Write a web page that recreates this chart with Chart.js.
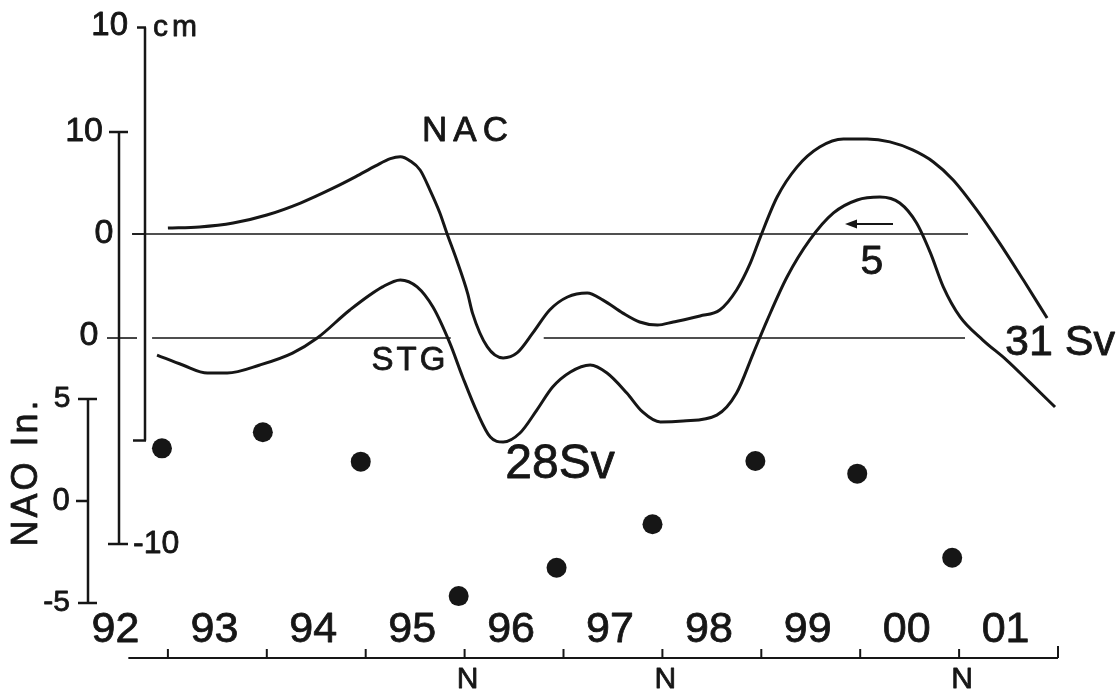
<!DOCTYPE html>
<html>
<head>
<meta charset="utf-8">
<script src="https://cdn.jsdelivr.net/npm/chart.js@4.4.1/dist/chart.umd.min.js"></script>
<style>
  html, body { margin: 0; padding: 0; background: #fff; }
  #wrap { width: 1119px; height: 692px; }
</style>
</head>
<body>
<div id="wrap"><canvas id="chart" width="1119" height="692"></canvas></div>
<script>
// NAC sea level curve (cm)
const nacYears = [1993.00, 1993.32, 1993.66, 1994.00, 1994.34, 1994.67, 1994.90, 1995.10, 1995.25, 1995.35,
  1995.45, 1995.55, 1995.65, 1995.75, 1995.82, 1995.92, 1996.03, 1996.08, 1996.23, 1996.39,
  1996.53, 1996.69, 1996.86, 1997.04, 1997.24, 1997.40, 1997.60, 1997.77, 1997.95, 1998.11,
  1998.38, 1998.58, 1998.75, 1998.89, 1998.99, 1999.16, 1999.36, 1999.59, 1999.83, 2000.07,
  2000.30, 2000.53, 2000.74, 2000.94, 2001.18, 2001.41, 2001.65, 2001.89];
const nacCm = [0.29, 0.34, 0.53, 0.92, 1.50, 2.22, 2.78, 3.30, 3.65, 3.74,
  3.54, 3.10, 2.13, 1.02, 0.05, -1.26, -2.86, -3.83, -5.47, -6.00,
  -5.76, -4.79, -3.68, -3.05, -2.86, -3.20, -3.83, -4.26, -4.41, -4.26,
  -3.97, -3.68, -2.71, -1.40, -0.15, 1.79, 3.24, 4.21, 4.60, 4.60,
  4.46, 4.07, 3.49, 2.62, 1.16, -0.44, -2.23, -4.07];

// STG curve (cm)
const stgYears = [1992.89, 1993.15, 1993.40, 1993.60, 1993.93, 1994.26, 1994.51, 1994.84, 1995.17, 1995.35,
  1995.52, 1995.68, 1995.85, 1995.98, 1996.13, 1996.26, 1996.39, 1996.56, 1996.73, 1996.89,
  1997.07, 1997.27, 1997.44, 1997.64, 1997.80, 1997.98, 1998.21, 1998.55, 1998.75, 1998.92,
  1999.06, 1999.26, 1999.49, 1999.73, 1999.97, 2000.20, 2000.40, 2000.57, 2000.71, 2000.84,
  2001.01, 2001.24, 2001.48, 2001.72, 2001.97];
const stgCm = [-0.83, -1.31, -1.70, -1.70, -1.31, -0.73, 0.00, 1.36, 2.48, 2.82,
  2.48, 1.50, -0.24, -1.89, -3.64, -4.81, -5.05, -4.61, -3.50, -2.38,
  -1.65, -1.31, -1.70, -2.67, -3.59, -4.08, -4.03, -3.74, -2.67, -0.73,
  0.87, 2.96, 4.76, 6.07, 6.70, 6.84, 6.55, 5.58, 4.13, 2.48,
  1.02, -0.10, -1.07, -2.18, -3.35];

// winter NAO index dots
const naoYears = [1992.94, 1993.96, 1994.95, 1995.94, 1996.93, 1997.90, 1998.94, 1999.97, 2000.93];
const naoIndex = [2.58, 3.37, 1.93, -4.66, -3.27, -1.14, 1.96, 1.34, -2.78];

// reference (zero) lines
const nacZeroYears = [1992.64, 2001.09];
const stgZeroYears = [1992.84, 1995.86, 1996.80, 2001.06];

const yearLabels = ["92", "93", "94", "95", "96", "97", "98", "99", "00", "01"];
const firstYear = 1992;
const ninoYears = [1996, 1998, 2001];
const nacTicks = [10, 0, -10];
const stgTicks = [10, 0, -10];
const naoTicks = [5, 0, -5];

const INK = "#161616";
const FONT = "'Liberation Sans', Arial, sans-serif";

function pts(xs, ys) {
  return xs.map((x, i) => ({ x: x, y: ys[i] }));
}

function seg(ctx, x1, y1, x2, y2) {
  ctx.beginPath();
  ctx.moveTo(x1, y1);
  ctx.lineTo(x2, y2);
  ctx.stroke();
}

// text with a hairline stroke so it looks as heavy as the printed lettering
function label(ctx, str, x, y, size, align, spacing) {
  ctx.save();
  ctx.font = size + "px " + FONT;
  ctx.textAlign = align || "center";
  ctx.textBaseline = "middle";
  ctx.letterSpacing = (spacing || 0) + "px";
  ctx.lineWidth = 0.8;
  ctx.lineJoin = "round";
  ctx.fillText(str, x, y);
  ctx.strokeText(str, x, y);
  ctx.restore();
}

const paperAxes = {
  id: "paperAxes",
  afterDatasetsDraw(chart) {
    const ctx = chart.ctx;
    const xs = chart.scales.x;
    const nac = chart.scales.yNAC;
    const stg = chart.scales.ySTG;
    const nao = chart.scales.yNAO;
    ctx.save();
    ctx.strokeStyle = INK;
    ctx.fillStyle = INK;
    ctx.lineWidth = 2.5;

    // NAC axis (cm)
    const xc = 145;
    seg(ctx, xc, nac.getPixelForValue(10), xc, nac.getPixelForValue(-10));
    seg(ctx, 137, nac.getPixelForValue(10), xc + 1, nac.getPixelForValue(10));
    seg(ctx, 133, nac.getPixelForValue(-10), xc + 1, nac.getPixelForValue(-10));
    ctx.lineWidth = 1.6;
    seg(ctx, 132, nac.getPixelForValue(0), xc, nac.getPixelForValue(0));
    ctx.lineWidth = 2.5;
    label(ctx, String(nacTicks[0]), 128, nac.getPixelForValue(10) - 2, 33, "right");
    label(ctx, "cm", 153, nac.getPixelForValue(10), 30, "left", 4);
    label(ctx, String(nacTicks[1]), 104, nac.getPixelForValue(0), 34, "center");

    // STG axis
    const xb = 119;
    seg(ctx, xb, stg.getPixelForValue(10), xb, stg.getPixelForValue(-10));
    seg(ctx, 109, stg.getPixelForValue(10), 128, stg.getPixelForValue(10));
    seg(ctx, 108, stg.getPixelForValue(-10), 128, stg.getPixelForValue(-10));
    ctx.lineWidth = 1.6;
    seg(ctx, 107, stg.getPixelForValue(0), 137, stg.getPixelForValue(0));
    ctx.lineWidth = 2.5;
    label(ctx, String(stgTicks[0]), 103, stg.getPixelForValue(10), 34, "right");
    label(ctx, String(stgTicks[1]), 89, stg.getPixelForValue(0) - 2, 34, "center");
    label(ctx, "-" + Math.abs(stgTicks[2]), 133, stg.getPixelForValue(-10), 32, "left");

    // NAO axis
    const xa = 88;
    seg(ctx, xa, nao.getPixelForValue(5), xa, nao.getPixelForValue(-5));
    seg(ctx, 78, nao.getPixelForValue(5), 97, nao.getPixelForValue(5));
    seg(ctx, 76, nao.getPixelForValue(0), xa, nao.getPixelForValue(0));
    seg(ctx, 78, nao.getPixelForValue(-5), 97, nao.getPixelForValue(-5));
    label(ctx, String(naoTicks[0]), 62, nao.getPixelForValue(5), 30, "center");
    label(ctx, String(naoTicks[1]), 61, nao.getPixelForValue(0), 31, "center");
    label(ctx, "-" + Math.abs(naoTicks[2]), 70, nao.getPixelForValue(-5), 30, "right");
    ctx.save();
    ctx.translate(27, 472);
    ctx.rotate(-Math.PI / 2);
    label(ctx, "NAO In.", 0, 0, 36, "center", 3);
    ctx.restore();

    // time axis
    const yAxis = 658;
    ctx.lineWidth = 2;
    seg(ctx, xs.getPixelForValue(firstYear + 0.6), yAxis, xs.getPixelForValue(firstYear + 10), yAxis);
    for (let i = 1; i <= yearLabels.length; i++) {
      const px = xs.getPixelForValue(firstYear + i);
      seg(ctx, px, yAxis, px, yAxis - (i === yearLabels.length ? 12 : 9));
    }
    yearLabels.forEach((t, i) => {
      label(ctx, t, xs.getPixelForValue(firstYear + i + 0.47), 630, 43, "center");
    });
    ninoYears.forEach(yr => {
      label(ctx, "N", xs.getPixelForValue(yr) + 3, 680, 30, "center");
    });

    // curve annotations
    label(ctx, "NAC", 468, 131, 35, "center", 6);
    label(ctx, "STG", 410, 361, 33, "center", 3);
    label(ctx, "28Sv", 560, 465, 48, "center");
    label(ctx, "31 Sv", 1060, 343, 43, "center");
    label(ctx, "5", 872, 263, 41, "center");

    // little arrow on the upper zero line
    ctx.lineWidth = 1.8;
    seg(ctx, 893, 224, 850, 224);
    ctx.beginPath();
    ctx.moveTo(845, 224);
    ctx.lineTo(857, 219.5);
    ctx.lineTo(857, 228.5);
    ctx.closePath();
    ctx.fill();

    ctx.restore();
  }
};

const nacZero = pts(nacZeroYears, [0, 0]);
const stgZero = [
  { x: stgZeroYears[0], y: 0 }, { x: stgZeroYears[1], y: 0 },
  { x: (stgZeroYears[1] + stgZeroYears[2]) / 2, y: null },
  { x: stgZeroYears[2], y: 0 }, { x: stgZeroYears[3], y: 0 }
];

const curveStyle = {
  borderColor: INK,
  borderWidth: 3,
  pointRadius: 0,
  fill: false,
  cubicInterpolationMode: "monotone"
};

new Chart(document.getElementById("chart"), {
  type: "line",
  data: {
    datasets: [
      Object.assign({ label: "NAC", yAxisID: "yNAC", data: pts(nacYears, nacCm) }, curveStyle),
      Object.assign({ label: "STG", yAxisID: "ySTG", data: pts(stgYears, stgCm) }, curveStyle),
      { label: "NAC zero", yAxisID: "yNAC", data: nacZero, borderColor: INK, borderWidth: 1.6, pointRadius: 0 },
      { label: "STG zero", yAxisID: "ySTG", data: stgZero, borderColor: INK, borderWidth: 1.6, pointRadius: 0, spanGaps: false },
      {
        label: "NAO index", yAxisID: "yNAO", data: pts(naoYears, naoIndex),
        showLine: false, pointRadius: 10, pointBackgroundColor: INK, pointBorderWidth: 0,
        borderColor: INK
      }
    ]
  },
  options: {
    responsive: false,
    animation: false,
    events: [],
    clip: false,
    layout: { padding: 0, autoPadding: false },
    plugins: { legend: { display: false }, tooltip: { enabled: false } },
    scales: {
      x: { type: "linear", min: 1991.3023, max: 2002.6168, display: false },
      yNAC: { type: "linear", min: -22.179, max: 11.332, display: false },
      ySTG: { type: "linear", min: -17.184, max: 16.408, display: false },
      yNAO: { type: "linear", min: -9.363, max: 24.559, display: false }
    }
  },
  plugins: [paperAxes]
});
</script>
</body>
</html>
